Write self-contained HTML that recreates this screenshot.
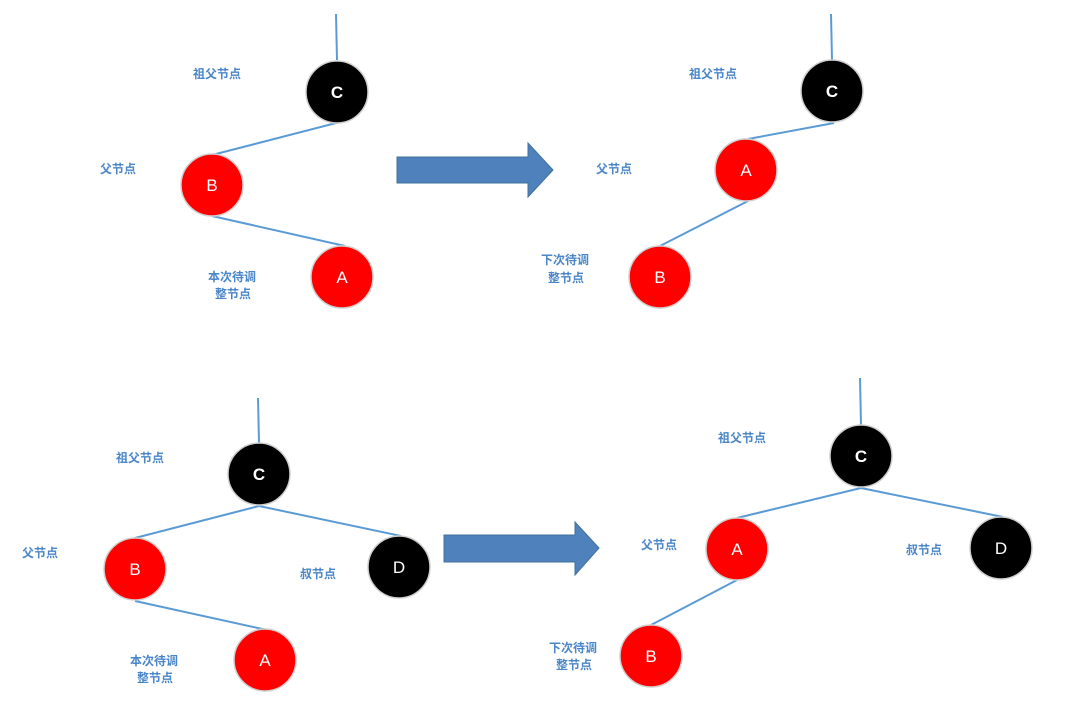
<!DOCTYPE html>
<html><head><meta charset="utf-8"><style>
html,body{margin:0;padding:0;background:#fff;}
svg{display:block;}
.l{font-family:"Liberation Sans","Noto Sans CJK SC",sans-serif;font-size:12px;font-weight:bold;fill:#4a86c8;}
.n{font-family:"Liberation Sans",sans-serif;font-size:17px;fill:#fff;text-anchor:middle;}
</style></head><body>
<svg width="1066" height="722" viewBox="0 0 1066 722" xmlns="http://www.w3.org/2000/svg">
<g stroke="#5b9bd5" stroke-width="2" fill="none">
<line x1="336" y1="14" x2="337" y2="60"/>
<line x1="340" y1="122" x2="212" y2="155"/>
<line x1="212" y1="216" x2="345" y2="246"/>
<line x1="831" y1="14" x2="832" y2="60"/>
<line x1="834" y1="123" x2="748" y2="139"/>
<line x1="748" y1="201" x2="660" y2="246"/>
<line x1="258" y1="398" x2="259" y2="443"/>
<line x1="259" y1="506" x2="135" y2="538"/>
<line x1="259" y1="506" x2="401" y2="536"/>
<line x1="135" y1="601" x2="267" y2="630"/>
<line x1="860" y1="378" x2="861" y2="425"/>
<line x1="861" y1="488" x2="737" y2="518"/>
<line x1="861" y1="488" x2="1003" y2="517"/>
<line x1="737" y1="580" x2="651" y2="625"/>
</g>
<g fill="#4f81bd" stroke="#41719c" stroke-width="1">
<polygon points="397,157 528,157 528,143 553,170 528,197 528,183 397,183"/>
<polygon points="444,535 575,535 575,522 599,548 575,575 575,562 444,562"/>
</g>
<g stroke="#d0d0d0" stroke-width="1.5">
<circle cx="337" cy="92" r="31" fill="#000"/>
<circle cx="212" cy="185" r="31" fill="#f00"/>
<circle cx="342" cy="277" r="31" fill="#f00"/>
<circle cx="832" cy="91" r="31" fill="#000"/>
<circle cx="746" cy="170" r="31" fill="#f00"/>
<circle cx="660" cy="277" r="31" fill="#f00"/>
<circle cx="259" cy="474" r="31" fill="#000"/>
<circle cx="135" cy="569" r="31" fill="#f00"/>
<circle cx="399" cy="567" r="31" fill="#000"/>
<circle cx="265" cy="660" r="31" fill="#f00"/>
<circle cx="861" cy="456" r="31" fill="#000"/>
<circle cx="737" cy="549" r="31" fill="#f00"/>
<circle cx="1001" cy="548" r="31" fill="#000"/>
<circle cx="651" cy="656" r="31" fill="#f00"/>
</g>
<g class="n">
<text x="337" y="98" font-weight="bold">C</text>
<text x="212" y="191">B</text>
<text x="342" y="283">A</text>
<text x="832" y="97" font-weight="bold">C</text>
<text x="746" y="176">A</text>
<text x="660" y="283">B</text>
<text x="259" y="480" font-weight="bold">C</text>
<text x="135" y="575">B</text>
<text x="399" y="573">D</text>
<text x="265" y="666">A</text>
<text x="861" y="462" font-weight="bold">C</text>
<text x="737" y="555">A</text>
<text x="1001" y="554">D</text>
<text x="651" y="662">B</text>
</g>
<g class="l">
<text x="193" y="78">祖父节点</text>
<text x="100" y="173">父节点</text>
<text x="208" y="281">本次待调</text>
<text x="215" y="298">整节点</text>
<text x="689" y="78">祖父节点</text>
<text x="596" y="173">父节点</text>
<text x="541" y="264">下次待调</text>
<text x="548" y="282">整节点</text>
<text x="116" y="462">祖父节点</text>
<text x="22" y="557">父节点</text>
<text x="300" y="578">叔节点</text>
<text x="130" y="665">本次待调</text>
<text x="137" y="682">整节点</text>
<text x="718" y="442">祖父节点</text>
<text x="641" y="549">父节点</text>
<text x="906" y="554">叔节点</text>
<text x="549" y="652">下次待调</text>
<text x="556" y="669">整节点</text>
</g>
</svg>
</body></html>
